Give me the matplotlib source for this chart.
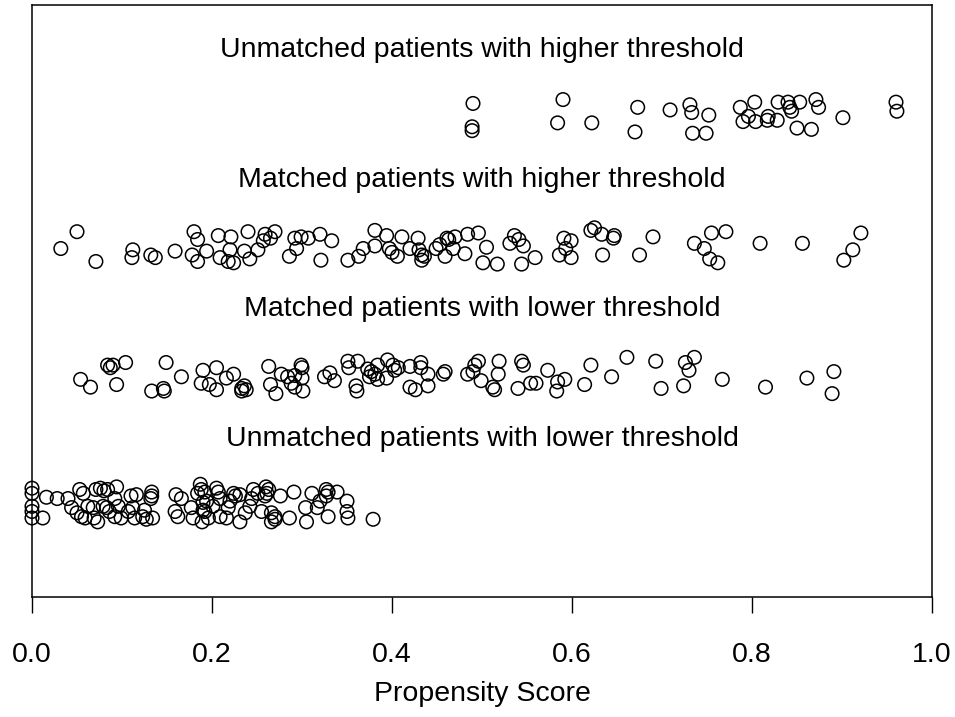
import numpy as np
import matplotlib
matplotlib.use('Agg')
import matplotlib.pyplot as plt

plt.rcParams['font.family'] = ['Liberation Sans', 'DejaVu Sans']

# group labels, drawn from top to bottom, with their row level
labels = ['Unmatched patients with higher threshold',
          'Matched patients with higher threshold',
          'Matched patients with lower threshold',
          'Unmatched patients with lower threshold']
levels = [3, 2, 1, 0]

# propensity scores and vertical jitter
unm_high_x = [0.490, 0.489, 0.489, 0.590, 0.584, 0.622, 0.673, 0.670, 0.709, 0.731,
              0.733, 0.734, 0.752, 0.749, 0.787, 0.803, 0.796, 0.790, 0.804, 0.818,
              0.817, 0.828, 0.829, 0.840, 0.842, 0.844, 0.853, 0.871, 0.874, 0.850,
              0.866, 0.901, 0.960, 0.961]
unm_high_j = [0.09, -0.09, -0.12, 0.12, -0.06, -0.06, 0.06, -0.13, 0.04, 0.08,
              0.02, -0.14, 0.00, -0.14, 0.06, 0.10, -0.01, -0.05, -0.05, -0.01,
              -0.04, -0.04, 0.10, 0.10, 0.06, 0.03, 0.10, 0.12, 0.06, -0.10,
              -0.11, -0.02, 0.10, 0.03]

mat_high_x = [0.032, 0.050, 0.071, 0.112, 0.111, 0.132, 0.137, 0.159, 0.180, 0.184,
              0.178, 0.184, 0.194, 0.207, 0.221, 0.209, 0.220, 0.218, 0.224, 0.236,
              0.240, 0.242, 0.251, 0.259, 0.257, 0.265, 0.270, 0.286, 0.294, 0.292,
              0.299, 0.307, 0.320, 0.321, 0.333, 0.351, 0.363, 0.368, 0.381, 0.381,
              0.394, 0.397, 0.400, 0.406, 0.411, 0.420, 0.429, 0.430, 0.433, 0.436,
              0.433, 0.449, 0.453, 0.461, 0.463, 0.470, 0.459, 0.468, 0.484, 0.496,
              0.481, 0.505, 0.501, 0.517, 0.536, 0.541, 0.531, 0.546, 0.544, 0.559,
              0.591, 0.599, 0.593, 0.586, 0.599, 0.621, 0.625, 0.633, 0.646, 0.647,
              0.634, 0.675, 0.690, 0.736, 0.755, 0.771, 0.747, 0.753, 0.762, 0.809,
              0.856, 0.921, 0.912, 0.902]
mat_high_j = [-0.03, 0.10, -0.13, -0.04, -0.10, -0.08, -0.10, -0.05, 0.10, 0.04,
              -0.08, -0.13, -0.05, 0.07, 0.06, -0.10, -0.04, -0.13, -0.14, -0.05,
              0.10, -0.11, -0.04, 0.08, 0.03, 0.05, 0.10, -0.09, -0.03, 0.05,
              0.06, 0.05, 0.08, -0.12, 0.03, -0.12, -0.09, -0.03, 0.11, -0.01,
              0.07, -0.03, -0.06, -0.09, 0.06, -0.03, 0.05, -0.04, -0.08, -0.09,
              -0.12, -0.03, 0.00, 0.05, 0.04, 0.06, -0.09, -0.03, 0.08, 0.09,
              -0.07, -0.02, -0.14, -0.15, 0.07, 0.04, 0.01, -0.01, -0.15, -0.10,
              0.05, 0.03, -0.03, -0.08, -0.10, 0.11, 0.13, 0.08, 0.05, 0.07,
              -0.08, -0.08, 0.06, 0.01, 0.09, 0.10, -0.03, -0.11, -0.14, 0.01,
              0.01, 0.09, -0.04, -0.12]

mat_low_x = [0.054, 0.065, 0.084, 0.087, 0.090, 0.104, 0.094, 0.133, 0.146, 0.147,
             0.149, 0.166, 0.190, 0.205, 0.188, 0.197, 0.205, 0.216, 0.224, 0.233,
             0.236, 0.238, 0.233, 0.263, 0.265, 0.271, 0.277, 0.284, 0.292, 0.288,
             0.292, 0.299, 0.300, 0.300, 0.301, 0.325, 0.331, 0.336, 0.351, 0.352,
             0.362, 0.360, 0.361, 0.373, 0.377, 0.381, 0.375, 0.384, 0.395, 0.384,
             0.394, 0.401, 0.407, 0.403, 0.420, 0.420, 0.426, 0.432, 0.432, 0.440,
             0.440, 0.457, 0.459, 0.484, 0.490, 0.496, 0.492, 0.499, 0.519, 0.518,
             0.512, 0.514, 0.544, 0.546, 0.540, 0.554, 0.560, 0.573, 0.584, 0.592,
             0.583, 0.614, 0.621, 0.644, 0.661, 0.693, 0.726, 0.736, 0.730, 0.699,
             0.724, 0.767, 0.815, 0.861, 0.891, 0.889]
mat_low_j = [-0.04, -0.10, 0.07, 0.05, 0.07, 0.09, -0.08, -0.13, -0.11, -0.13,
             0.09, -0.02, 0.03, 0.05, -0.07, -0.08, -0.12, -0.03, 0.00, -0.11,
             -0.09, -0.12, -0.13, 0.06, -0.08, -0.15, 0.00, -0.02, -0.01, -0.07,
             -0.10, 0.07, 0.05, -0.03, -0.13, -0.02, 0.01, -0.05, 0.10, 0.05,
             0.10, -0.09, -0.13, 0.04, 0.02, 0.00, -0.02, 0.07, 0.11, -0.04,
             -0.03, 0.07, 0.05, 0.03, 0.06, -0.10, -0.12, 0.09, 0.05, 0.00,
             -0.09, 0.00, 0.02, 0.00, 0.02, 0.10, 0.07, -0.05, 0.10, 0.00,
             -0.10, -0.12, 0.10, 0.07, -0.11, -0.07, -0.07, 0.03, -0.06, -0.04,
             -0.13, -0.08, 0.07, -0.02, 0.13, 0.10, 0.09, 0.13, 0.03, -0.11,
             -0.09, -0.04, -0.10, -0.03, 0.02, -0.15]

unm_low_x = [0.000, 0.000, 0.000, 0.000, 0.000, 0.012, 0.016, 0.028, 0.040, 0.044,
             0.053, 0.057, 0.050, 0.055, 0.059, 0.062, 0.068, 0.071, 0.076, 0.080,
             0.084, 0.069, 0.073, 0.079, 0.083, 0.086, 0.094, 0.092, 0.096, 0.092,
             0.099, 0.110, 0.116, 0.112, 0.107, 0.114, 0.123, 0.127, 0.125, 0.133,
             0.133, 0.132, 0.134, 0.160, 0.166, 0.159, 0.162, 0.177, 0.179, 0.184,
             0.188, 0.190, 0.192, 0.187, 0.192, 0.194, 0.190, 0.196, 0.189, 0.205,
             0.207, 0.209, 0.201, 0.209, 0.220, 0.226, 0.224, 0.231, 0.218, 0.216,
             0.231, 0.237, 0.242, 0.244, 0.246, 0.251, 0.260, 0.263, 0.261, 0.259,
             0.255, 0.266, 0.270, 0.270, 0.266, 0.276, 0.286, 0.291, 0.304, 0.305,
             0.311, 0.317, 0.320, 0.327, 0.329, 0.327, 0.339, 0.329, 0.350, 0.350,
             0.351, 0.379]
unm_low_j = [0.12, 0.08, -0.02, -0.06, -0.11, -0.11, 0.05, 0.04, 0.04, -0.03,
             0.11, 0.08, -0.07, -0.10, -0.11, -0.02, -0.03, 0.11, 0.12, 0.10,
             0.11, -0.11, -0.14, -0.02, -0.03, -0.06, 0.13, 0.04, -0.02, -0.10,
             -0.11, 0.06, 0.07, -0.03, -0.06, -0.11, -0.10, -0.12, -0.05, 0.09,
             0.06, 0.04, -0.11, 0.07, 0.04, -0.06, -0.10, -0.03, -0.11, 0.08,
             0.11, 0.01, -0.06, 0.15, 0.09, 0.02, -0.05, -0.11, -0.14, 0.12,
             0.09, 0.04, -0.02, -0.10, 0.02, 0.06, 0.08, 0.07, -0.03, -0.11,
             -0.14, -0.07, -0.02, 0.04, 0.11, 0.08, 0.13, 0.11, 0.08, 0.06,
             -0.06, -0.07, -0.10, -0.12, -0.14, 0.06, -0.11, 0.09, -0.03, -0.14,
             0.08, -0.03, 0.02, 0.11, 0.09, 0.06, 0.09, -0.10, 0.02, -0.06,
             -0.11, -0.12]

groups = [(unm_high_x, unm_high_j), (mat_high_x, mat_high_j),
          (mat_low_x, mat_low_j), (unm_low_x, unm_low_j)]

fig = plt.figure(figsize=(9.55, 7.17), dpi=100)
ax = fig.add_axes([32/955, 1 - 597/717, 900/955, 592/717])

for (xs, js), lev, lab in zip(groups, levels, labels):
    ys = lev + np.array(js)
    ax.scatter(xs, ys, s=95, facecolors='none', edgecolors='black', linewidths=1.1, clip_on=False)
    ax.text(0.5, lev + 0.5, lab, ha='center', va='center', fontsize=20.5)

ax.set_xlim(0, 1)
ax.set_ylim(-0.72, 3.85)
ax.set_yticks([])
ax.set_xticks([0.0, 0.2, 0.4, 0.6, 0.8, 1.0])
ax.set_xticklabels(['0.0', '0.2', '0.4', '0.6', '0.8', '1.0'], fontsize=20.5)
ax.tick_params(axis='x', length=11.5, width=1, pad=21)
ax.set_xlabel('Propensity Score', fontsize=20.5, labelpad=9)
for sp in ax.spines.values():
    sp.set_linewidth(1.1)

fig.savefig('out.png', dpi=100)
